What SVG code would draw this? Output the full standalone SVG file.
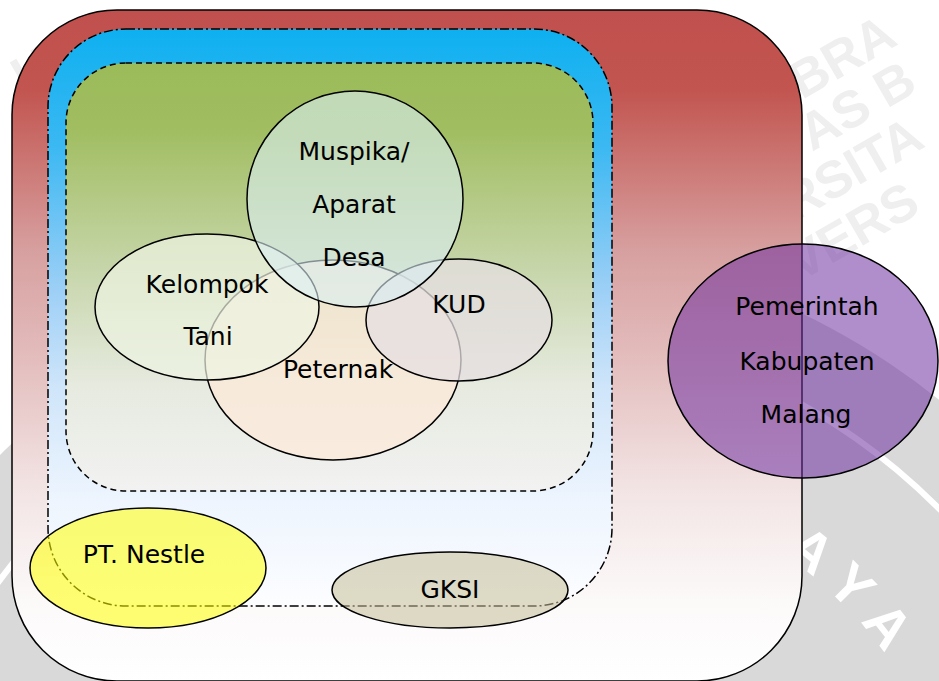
<svg xmlns="http://www.w3.org/2000/svg" width="939" height="681" viewBox="0 0 939 681">
  <defs>
    <linearGradient id="gRed" x1="0" y1="0" x2="0" y2="1">
      <stop offset="0" stop-color="#c0504d"/>
      <stop offset="0.12" stop-color="#c25550"/>
      <stop offset="0.36" stop-color="#d7a0a0"/>
      <stop offset="0.5" stop-color="#e2b9b9"/>
      <stop offset="0.72" stop-color="#f3e5e5"/>
      <stop offset="0.88" stop-color="#fcf9f9"/>
      <stop offset="1" stop-color="#ffffff"/>
    </linearGradient>
    <linearGradient id="gBlue" x1="0" y1="0" x2="0" y2="1">
      <stop offset="0" stop-color="#0eb0f0"/>
      <stop offset="0.2" stop-color="#3ab8f2"/>
      <stop offset="0.45" stop-color="#9ccff6"/>
      <stop offset="0.62" stop-color="#cfe5fa"/>
      <stop offset="0.82" stop-color="#eef5fe"/>
      <stop offset="1" stop-color="#fcfdff"/>
    </linearGradient>
    <linearGradient id="gGreen" x1="0" y1="0" x2="0" y2="1">
      <stop offset="0" stop-color="#9bbb59"/>
      <stop offset="0.15" stop-color="#a0bd60"/>
      <stop offset="0.5" stop-color="#c9d7ae"/>
      <stop offset="0.75" stop-color="#e6eadf"/>
      <stop offset="1" stop-color="#f2f2f2"/>
    </linearGradient>
    <!-- arc that carries the lettering of the seal -->
    <path id="ringPath" d="M104.4 1222.2 A483 483 0 1 1 895.6 668.0"/>
  </defs>
  <style>
    .lbl { font-family: "DejaVu Sans", "Liberation Sans", sans-serif; font-size: 25px; fill: #000; text-anchor: middle; }
    .edge { stroke: #000; stroke-width: 1.5; }
    .wm { font-family: "Liberation Sans", Arial, sans-serif; font-weight: bold; font-size: 52px; fill: #efefef; }
    .wmRing { font-family: "Liberation Sans", Arial, sans-serif; font-weight: bold; font-size: 56px; fill: #ffffff; letter-spacing: 18px; }
  </style>

  <rect x="0" y="0" width="939" height="681" fill="#ffffff"/>

  <!-- background watermark -->
  <g id="watermark">
    <text class="wm" x="25" y="95" transform="rotate(-30 25 95)">UNI</text>
    <text class="wm" x="802" y="100" transform="rotate(-30 802 100)">BRA</text>
    <text class="wm" x="812" y="152" transform="rotate(-30 812 152)">AS B</text>
    <text class="wm" x="795" y="222" transform="rotate(-30 795 222)">RSITA</text>
    <text class="wm" x="800" y="282" transform="rotate(-30 800 282)">VERS</text>
    <circle cx="500" cy="945" r="700" fill="#d9d9d9"/>
    <circle cx="500" cy="945" r="619" fill="none" stroke="#ffffff" stroke-width="6"/>
    <text class="wmRing" text-anchor="end"><textPath href="#ringPath" startOffset="100%">AYA</textPath></text>
  </g>

  <!-- outer scope -->
  <g id="scope-outer">
    <rect x="12" y="10" width="790" height="671" rx="105" ry="105" fill="url(#gRed)" class="edge"/>
  </g>

  <!-- middle scope (dash-dot) -->
  <g id="scope-middle">
    <rect x="48" y="29" width="564" height="577" rx="78" ry="78" fill="url(#gBlue)" stroke="#000" stroke-width="1.5" stroke-dasharray="9 3 2 3"/>
  </g>

  <!-- inner scope (dashed) -->
  <g id="scope-inner">
    <rect x="66" y="63" width="527" height="428" rx="60" ry="60" fill="url(#gGreen)" stroke="#000" stroke-width="1.5" stroke-dasharray="6 4"/>
  </g>

  <g id="node-peternak">
    <ellipse cx="333" cy="360" rx="128" ry="100" fill="#fde9d9" fill-opacity="0.7" class="edge"/>
    <text class="lbl" x="338" y="378">Peternak</text>
  </g>

  <g id="node-kelompok-tani">
    <ellipse cx="207" cy="307" rx="112" ry="73" fill="#eef3e2" fill-opacity="0.7" class="edge"/>
    <text class="lbl" x="207" y="293">Kelompok</text>
    <text class="lbl" x="208" y="345">Tani</text>
  </g>

  <g id="node-kud">
    <ellipse cx="459" cy="320" rx="93" ry="61" fill="#e6dfe2" fill-opacity="0.75" class="edge"/>
    <text class="lbl" x="459" y="313">KUD</text>
  </g>

  <g id="node-muspika">
    <ellipse cx="355" cy="199" rx="108" ry="108" fill="#dbeef3" fill-opacity="0.6" class="edge"/>
    <text class="lbl" x="354" y="160">Muspika/</text>
    <text class="lbl" x="354" y="213">Aparat</text>
    <text class="lbl" x="354" y="266">Desa</text>
  </g>

  <g id="node-nestle">
    <ellipse cx="148" cy="568" rx="118" ry="60" fill="#ffff00" fill-opacity="0.55" class="edge"/>
    <text class="lbl" x="144" y="563">PT. Nestle</text>
  </g>

  <g id="node-gksi">
    <ellipse cx="450" cy="590" rx="118" ry="38" fill="#c4bd97" fill-opacity="0.55" class="edge"/>
    <text class="lbl" x="450" y="598">GKSI</text>
  </g>

  <g id="node-pemkab">
    <ellipse cx="803" cy="361" rx="135" ry="117" fill="#7030a0" fill-opacity="0.55" class="edge"/>
    <text class="lbl" x="807" y="315">Pemerintah</text>
    <text class="lbl" x="807" y="370">Kabupaten</text>
    <text class="lbl" x="806" y="423">Malang</text>
  </g>

  <g id="connectors"/>
</svg>
